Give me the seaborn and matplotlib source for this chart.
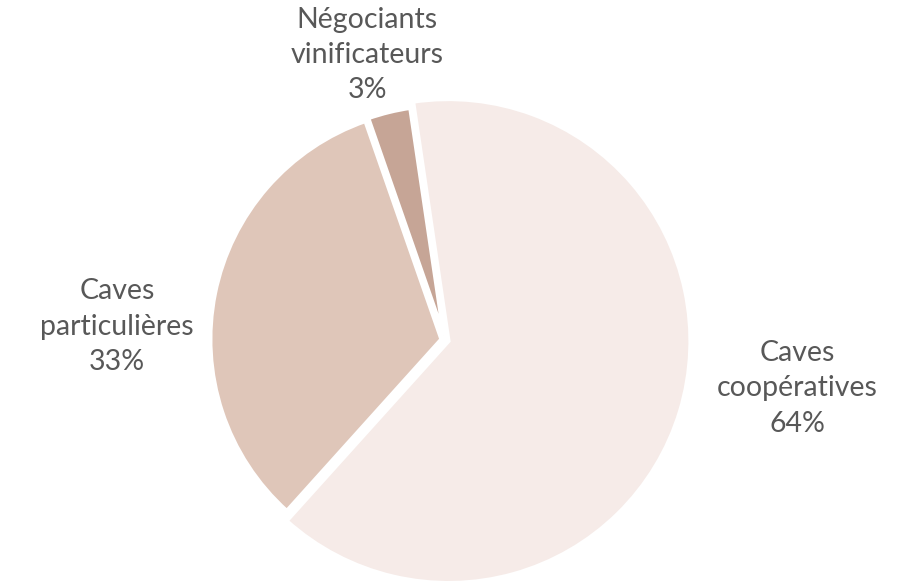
import numpy as np
import pandas as pd
import seaborn as sns
import matplotlib.pyplot as plt

sns.set_theme(style='white')
plt.rcParams['font.family'] = ['Lato', 'DejaVu Sans']

# data
categories = ['Caves\ncoopératives', 'Négociants\nvinificateurs', 'Caves\nparticulières']
shares = [64, 3, 33]
colors = ['#f6ebe8', '#c6a596', '#dfc6b9']

df = pd.DataFrame({'categorie': categories, 'part': shares})

fig = plt.figure(figsize=(9.03, 5.87), dpi=100)
ax = fig.add_axes([0, 0, 1, 1])

wedges, _ = ax.pie(df['part'], colors=colors, startangle=-132, counterclock=True,
                   explode=[0.015, 0.02, 0.015],
                   wedgeprops=dict(edgecolor='white', linewidth=3))
# the two smaller slices are drawn a little smaller in the original
wedges[1].set_radius(0.95)
wedges[2].set_radius(0.955)

# label placement (angle in degrees, distance in radii)
label_pos = [(-7.8, 1.468), (105.3, 1.221), (177.7, 1.356)]
for (cat, val), (ang, dist) in zip(zip(df['categorie'], df['part']), label_pos):
    a = np.deg2rad(ang)
    ax.text(dist * np.cos(a), dist * np.sin(a), f'{cat}\n{val}%',
            ha='center', va='center', fontsize=20.5, color='#585858',
            linespacing=1.45)

# pie centre at (445, 340) px, radius 242 px
r = 242
ax.set_xlim(-445 / r, (903 - 445) / r)
ax.set_ylim(-(587 - 340) / r, 340 / r)
ax.set_aspect('auto')
ax.axis('off')

fig.savefig('out.png', dpi=100, facecolor='white')
